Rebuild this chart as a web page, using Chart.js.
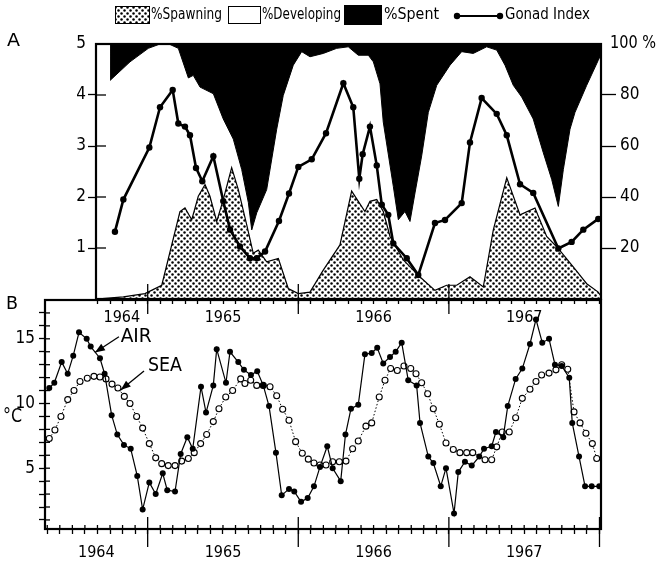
<!DOCTYPE html>
<html>
<head>
<meta charset="utf-8">
<script src="https://cdn.jsdelivr.net/npm/chart.js@4.4.1/dist/chart.umd.min.js"></script>
<style>
  body { margin: 0; background: #fff; }
  #wrap { position: relative; width: 661px; height: 562px; }
  canvas { position: absolute; left: 0; top: 0; }
</style>
</head>
<body>
<div id="wrap">
  <canvas id="panelB" width="661" height="562"></canvas>
  <canvas id="panelA" width="661" height="562"></canvas>
</div>
<script>
// x values are months counted from January 1964 (0 = Jan 1964)
const yearLabels = ['1964', '1965', '1966', '1967'];

// panel A : condition of the gonads (%) and gonad index
const spawnMonths = [7.88,10.06,11.78,13.12,14.57,14.97,15.51,16.03,16.57,16.96,17.50,18.02,18.69,19.22,19.89,20.41,20.81,21.48,22.41,23.20,24.00,24.93,25.99,27.32,28.25,29.31,29.71,30.25,30.77,31.31,32.37,33.70,34.89,35.82,36.62,37.68,38.74,39.54,40.61,41.67,42.86,43.79,44.59,45.91,46.98,47.90,48.16];
const spawnPct = [0,0.8,2.1,5.4,34.3,35.7,31.1,40.3,44.9,40.3,30.4,39.0,51.5,42.9,29.1,17.9,19.2,14.6,15.9,4.1,2.1,2.7,11.3,21.2,42.3,34.3,38.3,39.0,34.3,24.5,15.3,8.6,3.4,5.4,5.4,8.7,4.7,27.1,47.5,33.0,35.7,24.5,20.5,12.6,6.0,2.7,0.8];

const spentMonths = [9.00,10.59,12.05,12.98,13.78,14.44,15.24,15.63,16.17,17.23,18.02,18.82,19.49,20.02,20.29,20.69,21.48,22.28,22.80,23.60,24.27,24.93,25.99,27.06,27.98,28.78,29.58,29.98,30.51,30.77,31.57,31.97,32.50,32.90,33.30,33.83,34.36,35.03,36.09,37.02,37.94,39.01,39.81,40.47,41.13,41.80,42.72,43.52,44.19,44.72,45.12,45.65,46.05,46.98,47.90,48.16];
const spentPct = [14.3,7.0,1.7,0,0.2,1.7,13.3,12.3,16.9,19.5,29.4,37.3,49.2,62.2,72.9,66.2,57.1,33.4,20.2,8.3,3.0,5.0,3.7,1.7,1.1,4.4,4.4,7.0,15.6,30.6,55.8,68.9,65.7,69.6,58.4,43.9,26.8,16.2,8.3,3.0,3.7,1.1,2.4,8.3,16.2,20.8,29.4,42.6,53.1,63.7,49.2,33.4,26.8,16.2,6.4,3.7];

const gonadMonths = [9.39,10.06,12.13,12.98,13.99,14.44,14.97,15.37,15.85,16.35,17.23,18.02,18.56,19.35,20.15,20.69,21.35,22.46,23.26,24.00,25.07,26.21,27.59,28.38,28.86,29.13,29.71,30.25,30.65,31.17,31.57,32.64,33.56,34.89,35.69,37.02,37.68,38.61,39.81,40.61,41.67,42.72,44.72,45.78,46.71,47.90];
const gonadIndex = [1.32,1.95,2.97,3.76,4.10,3.44,3.38,3.21,2.57,2.31,2.80,1.92,1.36,1.03,0.80,0.80,0.93,1.53,2.07,2.59,2.74,3.25,4.23,3.76,2.36,2.84,3.38,2.62,1.85,1.65,1.09,0.80,0.47,1.49,1.55,1.88,3.07,3.94,3.63,3.21,2.25,2.08,0.99,1.12,1.36,1.57];

// panel B : temperatures (°C)
const airMonths = [4.16,4.56,5.15,5.63,6.07,6.53,7.14,7.46,8.20,8.57,9.13,9.58,10.11,10.65,11.17,11.60,12.13,12.64,13.20,13.56,14.18,14.63,15.16,15.59,16.25,16.65,17.23,17.50,18.24,18.56,19.22,19.67,20.23,20.73,21.21,21.67,22.22,22.68,23.26,23.68,24.22,24.75,25.25,25.73,26.31,26.74,27.38,27.76,28.20,28.78,29.31,29.85,30.29,30.77,31.31,31.76,32.24,32.76,33.43,33.70,34.36,34.76,35.35,35.77,36.41,36.75,37.28,37.82,38.42,38.80,39.41,39.75,40.33,40.69,41.32,41.85,42.46,42.94,43.44,43.98,44.45,44.99,45.59,45.83,46.37,46.85,47.38,47.98];
const airTemp = [11.2,11.6,13.2,12.3,13.7,15.5,15.0,14.4,13.5,12.3,9.1,7.6,6.8,6.5,4.4,1.8,3.9,3.0,4.6,3.3,3.2,6.1,7.4,6.5,11.3,9.3,11.4,14.2,11.6,14.0,13.2,12.6,12.2,12.5,11.4,9.8,6.2,2.9,3.4,3.2,2.4,2.7,3.6,5.1,6.7,5.0,4.0,7.6,9.6,9.9,13.8,13.9,14.3,13.1,13.6,14.0,14.7,11.8,11.4,8.5,5.9,5.4,3.6,5.0,1.5,4.7,5.5,5.2,5.9,6.5,6.7,7.8,7.4,9.8,11.9,12.7,14.6,16.5,14.7,15.0,13.0,12.9,12.0,8.5,5.9,3.6,3.6,3.6];

const seaMonths = [4.16,4.61,5.09,5.63,6.13,6.61,7.19,7.72,8.20,8.68,9.16,9.63,10.14,10.59,11.12,11.60,12.13,12.64,13.12,13.64,14.18,14.71,15.24,15.71,16.22,16.70,17.23,17.68,18.22,18.77,19.41,19.75,20.21,20.69,21.21,21.75,22.28,22.76,23.26,23.79,24.32,24.80,25.25,25.73,26.21,26.74,27.27,27.80,28.33,28.78,29.39,29.85,30.45,30.91,31.36,31.89,32.42,32.96,33.38,33.83,34.31,34.76,35.24,35.77,36.35,36.88,37.42,37.90,38.88,39.41,39.81,40.25,40.81,41.32,41.85,42.46,42.94,43.39,43.98,44.53,44.99,45.47,45.97,46.45,46.92,47.43,47.78];
const seaTemp = [7.3,7.95,9.0,10.3,11.0,11.7,11.95,12.1,12.05,11.9,11.5,11.2,10.55,10.0,9.0,8.1,6.9,5.8,5.35,5.2,5.2,5.55,5.75,6.2,6.9,7.6,8.6,9.6,10.5,11.0,11.9,11.55,11.8,11.4,11.4,11.3,10.6,9.55,8.7,7.05,6.15,5.7,5.4,5.25,5.25,5.5,5.5,5.55,6.5,7.1,8.25,8.5,10.5,11.8,12.7,12.55,12.9,12.7,12.3,11.6,10.75,9.6,8.4,6.95,6.45,6.2,6.2,6.2,5.65,5.65,6.65,7.8,7.8,8.9,10.4,11.1,11.7,12.2,12.35,12.6,13.0,12.65,9.35,8.5,7.7,6.9,5.75];

const legendNames = ['%Spawning', '%Developing', '%Spent', 'Gonad Index'];

const NARROW = "'DejaVu Sans Condensed', 'Liberation Sans', sans-serif";
const H = 562;
const A_MIN = 7.88, B_MIN = 3.82, X_MAX = 48.12;

function pts(xs, ys) { return xs.map((x, i) => ({ x: x, y: ys[i] })); }

function yearPos(i, min, max) {
  const start = (Number(yearLabels[i]) - 1964) * 12;
  return (Math.max(start, min) + Math.min(start + 12, max)) / 2;
}
function monthTicks(min, max) {
  const vals = [];
  for (let m = Math.ceil(min); m <= max; m++) vals.push(m);
  yearLabels.forEach((y, i) => {
    const p = yearPos(i, min, max);
    if (!vals.includes(p)) vals.push(p);
  });
  return vals.sort((a, b) => a - b).map(v => ({ value: v }));
}
function yearLabel(v, min, max) {
  const i = yearLabels.findIndex((y, k) => Math.abs(yearPos(k, min, max) - v) < 1e-6);
  return i < 0 ? '' : yearLabels[i];
}

function dotPattern() {
  const c = document.createElement('canvas');
  c.width = 6; c.height = 6;
  const g = c.getContext('2d');
  g.fillStyle = '#fff'; g.fillRect(0, 0, 6, 6);
  g.fillStyle = '#000';
  [[1.5, 1.5], [4.5, 4.5]].forEach(p => { g.beginPath(); g.arc(p[0], p[1], 1.25, 0, Math.PI * 2); g.fill(); });
  return g.createPattern(c, 'repeat');
}
const spawnFill = dotPattern();

function line(ctx, x1, y1, x2, y2) { ctx.beginPath(); ctx.moveTo(x1, y1); ctx.lineTo(x2, y2); ctx.stroke(); }

// text squeezed horizontally to a given width, like the narrow lettering of the original
function fitText(ctx, text, x, y, size, width) {
  ctx.font = size + 'px ' + NARROW;
  const w = ctx.measureText(text).width;
  ctx.save();
  ctx.translate(x, y);
  ctx.scale(width / w, 1);
  ctx.textAlign = 'left'; ctx.textBaseline = 'middle';
  ctx.fillText(text, 0, 0);
  ctx.restore();
}

function arrow(ctx, x1, y1, x2, y2) {
  line(ctx, x1, y1, x2, y2);
  const a = Math.atan2(y2 - y1, x2 - x1), L = 10, W = 3.8;
  ctx.beginPath();
  ctx.moveTo(x2, y2);
  ctx.lineTo(x2 - L * Math.cos(a) + W * Math.sin(a), y2 - L * Math.sin(a) - W * Math.cos(a));
  ctx.lineTo(x2 - L * Math.cos(a) - W * Math.sin(a), y2 - L * Math.sin(a) + W * Math.cos(a));
  ctx.closePath(); ctx.fill();
}

// ---------- panel A ----------
const panelAExtras = {
  id: 'panelAExtras',
  afterDraw(chart) {
    const { ctx, chartArea: a, scales } = chart;
    ctx.save();
    ctx.strokeStyle = '#000'; ctx.fillStyle = '#000';
    ctx.lineWidth = 2.2;
    ctx.strokeRect(a.left, a.top, a.right - a.left, a.bottom - a.top);
    ctx.lineWidth = 1.3;
    [1, 2, 3, 4].forEach(v => { const y = scales.y.getPixelForValue(v); line(ctx, a.left, y, a.left + 10, y); });
    [12, 24, 36].forEach(m => { const x = scales.x.getPixelForValue(m); line(ctx, x, a.bottom - 15, x, a.bottom + 15); });

    fitText(ctx, 'A', 7, 41, 18, 13);
    fitText(ctx, '100 %', 610, scales.yR.getPixelForValue(100), 17, 46);

    // legend
    const ly = 15;
    ctx.lineWidth = 1;
    ctx.fillStyle = spawnFill; ctx.fillRect(115, 6, 35, 18);
    ctx.strokeRect(115.5, 6.5, 34, 17);
    ctx.fillStyle = '#000';
    fitText(ctx, legendNames[0], 151, ly, 16, 71);
    ctx.fillStyle = '#fff'; ctx.fillRect(228, 6, 33, 18);
    ctx.strokeRect(228.5, 6.5, 32, 17);
    ctx.fillStyle = '#000';
    fitText(ctx, legendNames[1], 262, ly, 16, 79);
    ctx.fillRect(344, 5, 38, 20);
    fitText(ctx, legendNames[2], 384, ly, 16, 55);
    ctx.lineWidth = 2.2;
    line(ctx, 457, ly + 1, 500, ly + 1);
    [457, 500].forEach(x => { ctx.beginPath(); ctx.arc(x, ly + 1, 3.2, 0, Math.PI * 2); ctx.fill(); });
    fitText(ctx, legendNames[3], 505, ly, 16, 85);
    ctx.restore();
  }
};

new Chart(document.getElementById('panelA'), {
  type: 'line',
  data: {
    datasets: [
      {
        label: legendNames[3], data: pts(gonadMonths, gonadIndex), yAxisID: 'y',
        borderColor: '#000', borderWidth: 2.6, backgroundColor: '#000',
        pointRadius: 3.2, pointBorderWidth: 0, fill: false, tension: 0
      },
      {
        label: legendNames[0], data: pts(spawnMonths, spawnPct), yAxisID: 'yR',
        borderColor: '#000', borderWidth: 1.2, backgroundColor: spawnFill,
        pointRadius: 0, fill: 'origin', tension: 0
      },
      {
        label: legendNames[2], data: spentMonths.map((m, i) => ({ x: m, y: 100 - spentPct[i] })), yAxisID: 'yR',
        borderColor: '#000', borderWidth: 1, backgroundColor: '#000',
        pointRadius: 0, fill: 'end', tension: 0
      }
    ]
  },
  options: {
    responsive: false, animation: false,
    layout: { padding: { top: 44, left: 0, right: 0, bottom: 0 } },
    plugins: { legend: { display: false }, tooltip: { enabled: false } },
    scales: {
      x: {
        type: 'linear', min: A_MIN, max: X_MAX,
        afterFit: s => { s.height = H - 299; },
        afterBuildTicks: s => { s.ticks = monthTicks(A_MIN, X_MAX); },
        grid: {
          drawOnChartArea: false, tickLength: 5, tickWidth: 1.3,
          tickColor: c => Number.isInteger(c.tick.value) ? '#000' : 'rgba(0,0,0,0)'
        },
        border: { display: false },
        ticks: {
          autoSkip: false, maxRotation: 0, padding: 4, color: '#000',
          font: { family: NARROW, size: 16 },
          callback: v => yearLabel(v, A_MIN, X_MAX)
        }
      },
      y: {
        position: 'left', min: 0, max: 5,
        afterFit: s => { s.width = 96; },
        afterBuildTicks: s => { s.ticks = [1, 2, 3, 4, 5].map(v => ({ value: v })); },
        grid: { drawOnChartArea: false, tickLength: 8, tickWidth: 1.3, tickColor: c => c.tick.value === 5 ? 'rgba(0,0,0,0)' : '#000' },
        border: { display: false },
        ticks: { padding: 2, color: '#000', font: { family: NARROW, size: 17 } }
      },
      yR: {
        position: 'right', min: 0, max: 100,
        afterFit: s => { s.width = 60; },
        afterBuildTicks: s => { s.ticks = [20, 40, 60, 80, 100].map(v => ({ value: v })); },
        grid: { drawOnChartArea: false, tickLength: 15, tickWidth: 1.3, tickColor: c => c.tick.value === 100 ? 'rgba(0,0,0,0)' : '#000' },
        border: { display: false },
        ticks: {
          padding: 4, color: '#000', font: { family: NARROW, size: 17 },
          callback: v => v === 100 ? '' : String(v)
        }
      }
    }
  },
  plugins: [panelAExtras]
});

// ---------- panel B ----------
const panelBExtras = {
  id: 'panelBExtras',
  afterDraw(chart) {
    const { ctx, chartArea: a, scales } = chart;
    const px = (m, t) => [scales.x.getPixelForValue(m), scales.y.getPixelForValue(t)];
    ctx.save();
    ctx.strokeStyle = '#000'; ctx.fillStyle = '#000';
    ctx.lineWidth = 2.2;
    ctx.strokeRect(a.left, a.top, a.right - a.left, a.bottom - a.top);
    ctx.lineWidth = 1.3;
    for (let m = Math.ceil(B_MIN); m < X_MAX; m++) {
      const x = scales.x.getPixelForValue(m);
      if (m % 12 === 0) line(ctx, x, a.bottom - 12, x, a.bottom + 18);
      else line(ctx, x, a.bottom - 4, x, a.bottom);
    }
    for (let v = 1; v <= 17; v++) { const y = scales.y.getPixelForValue(v); line(ctx, a.left, y, a.left + 5, y); }

    fitText(ctx, 'B', 6, 304, 18, 12);
    fitText(ctx, '°C', 3, 417, 20, 19);

    let p = px(9.85, 15.1); fitText(ctx, 'AIR', p[0], p[1], 19, 31);
    p = px(12.02, 12.9); fitText(ctx, 'SEA', p[0], p[1], 19, 34);
    ctx.lineWidth = 1.3;
    let s = px(9.71, 15.16), t = px(7.80, 13.94);
    arrow(ctx, s[0], s[1], t[0], t[1]);
    s = px(11.71, 12.52); t = px(9.85, 11.05);
    arrow(ctx, s[0], s[1], t[0], t[1]);
    ctx.restore();
  }
};

new Chart(document.getElementById('panelB'), {
  type: 'line',
  data: {
    datasets: [
      {
        label: 'AIR', data: pts(airMonths, airTemp),
        borderColor: '#000', borderWidth: 1.2, backgroundColor: '#000',
        pointRadius: 3, pointBorderWidth: 0, pointBackgroundColor: '#000', tension: 0
      },
      {
        label: 'SEA', data: pts(seaMonths, seaTemp),
        borderColor: '#000', borderWidth: 1, borderDash: [1.5, 2],
        pointRadius: 3, pointBorderWidth: 1.1, pointBorderColor: '#000', pointBackgroundColor: '#fff', tension: 0
      }
    ]
  },
  options: {
    responsive: false, animation: false,
    layout: { padding: { top: 300, left: 0, right: 60, bottom: 0 } },
    plugins: { legend: { display: false }, tooltip: { enabled: false } },
    scales: {
      x: {
        type: 'linear', min: B_MIN, max: X_MAX,
        afterFit: s => { s.height = H - 529; },
        afterBuildTicks: s => { s.ticks = monthTicks(B_MIN, X_MAX); },
        grid: {
          drawOnChartArea: false, tickLength: 5, tickWidth: 1.3,
          tickColor: c => Number.isInteger(c.tick.value) ? '#000' : 'rgba(0,0,0,0)'
        },
        border: { display: false },
        ticks: {
          autoSkip: false, maxRotation: 0, padding: 9, color: '#000',
          font: { family: NARROW, size: 16 },
          callback: v => yearLabel(v, B_MIN, X_MAX)
        }
      },
      y: {
        position: 'left', min: 0.3, max: 18,
        afterFit: s => { s.width = 45; },
        afterBuildTicks: s => {
          const t = [];
          for (let v = 1; v <= 17; v++) t.push({ value: v });
          s.ticks = t;
        },
        grid: { drawOnChartArea: false, tickLength: 6, tickWidth: 1.3, tickColor: '#000' },
        border: { display: false },
        ticks: {
          autoSkip: false, padding: 4, color: '#000', font: { family: NARROW, size: 17 },
          callback: v => v % 5 === 0 ? String(v) : ''
        }
      }
    }
  },
  plugins: [panelBExtras]
});
</script>
</body>
</html>
